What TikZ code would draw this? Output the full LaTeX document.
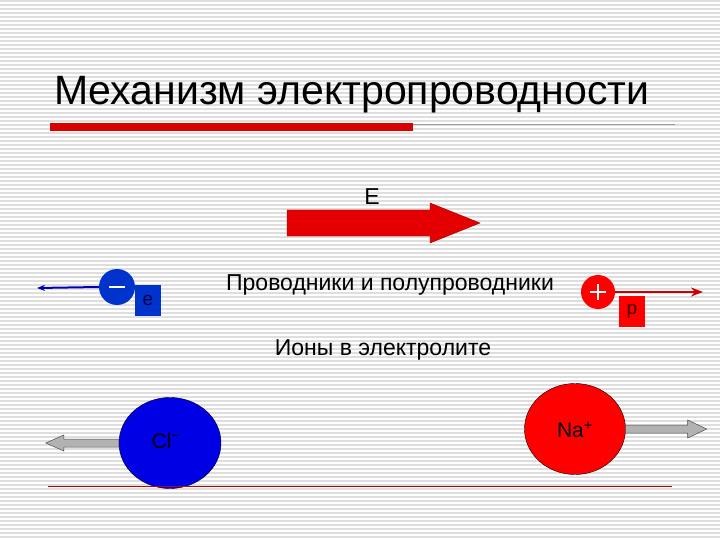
\documentclass[tikz,border=0pt]{standalone}
\usepackage{fontspec}
\setmainfont{Liberation Sans}
\usetikzlibrary{arrows.meta,shapes.geometric}
\begin{document}
\begin{tikzpicture}[x=1pt,y=-1pt,
  lbl/.style={inner sep=0pt,font=\fontsize{23}{23}\selectfont},
  sq/.style={inner sep=0pt,minimum width=26pt,minimum height=31pt},
  garrow/.style={draw=black!70,fill=black!30,line width=0.5pt}]
\useasboundingbox (0,0) rectangle (720,540);
\fill[white] (0,0) rectangle (720,540);
\foreach \y in {1,5,...,540} \draw[black!13,line width=1.2pt] (0,\y) -- (720,\y);
% title
\node[inner sep=0pt,anchor=west,font=\fontsize{41}{41}\selectfont] (title) at (54,95) {Механизм электропроводности};
\draw[black!40,line width=0.6pt] (50,124) -- (675,124);
\fill[red!85!black] (50,123) rectangle (413,131);
% field arrow
\node[lbl] (E) at (372,197) {E};
\fill[red!90!black,draw=red!60!black,line width=0.4pt] (287,210) -- (430,210) -- (430,203) -- (480,223) -- (430,243) -- (430,236) -- (287,236) -- cycle;
% electron
\node[lbl] (cond) at (390,285) {Проводники и полупроводники};
\node[sq,fill=blue!75!cyan!80!black] (esq) at (148,300) {\fontsize{19}{19}\selectfont\color{black!70!blue}e};
\node[circle,fill=blue!75!cyan!80!black,minimum size=36pt,inner sep=0pt] (el) at (117,287) {};
\draw[white,line width=1.5pt] (109,287) -- (125,287);
\coordinate (eend) at (37,288);
\draw[blue!70!black,line width=2pt,-{Stealth[length=8pt]}] (el.west) -- (eend);
% proton
\node[sq,fill=red] (psq) at (632,311) {\fontsize{19}{19}\selectfont\color{black!70!red}p};
\node[circle,fill=red,minimum size=34pt,inner sep=0pt] (pr) at (598,292) {};
\draw[white,line width=1.2pt] (590,292) -- (606,292) (598,284) -- (598,300);
\coordinate (pend) at (703,292);
\draw[red!80!black,line width=2.5pt,-{Stealth[length=12pt,width=9pt]}] (pr.east) -- (pend);
% ions
\node[lbl] (ions) at (383,350) {Ионы в электролите};
\node[ellipse,draw=black,line width=0.4pt,fill=blue!90!black,minimum width=102pt,minimum height=91pt,inner sep=0pt] (cl) at (170,443) {};
\node[inner sep=0pt,font=\fontsize{21}{21}\selectfont] at (166,441) {Cl\textsuperscript{\textminus}};
\node[ellipse,draw=black,line width=0.4pt,fill=red,minimum width=101pt,minimum height=91pt,inner sep=0pt] (na) at (575,429) {};
\node[inner sep=0pt,font=\fontsize{21}{21}\selectfont] at (575,430) {Na\textsuperscript{+}};
\draw[garrow] (cl.west) ++(0,-4) -- ++(-55,0) -- ++(0,-4) -- ++(-18,8) -- ++(18,8) -- ++(0,-4) -- ++(55,0) -- cycle;
\draw[garrow] (na.east) ++(0,-4) -- ++(62,0) -- ++(0,-5) -- ++(19,9) -- ++(-19,9) -- ++(0,-5) -- ++(-62,0) -- cycle;
\draw[red!75!black,line width=0.6pt] (48,486) -- (672,486);
\end{tikzpicture}
\end{document}
